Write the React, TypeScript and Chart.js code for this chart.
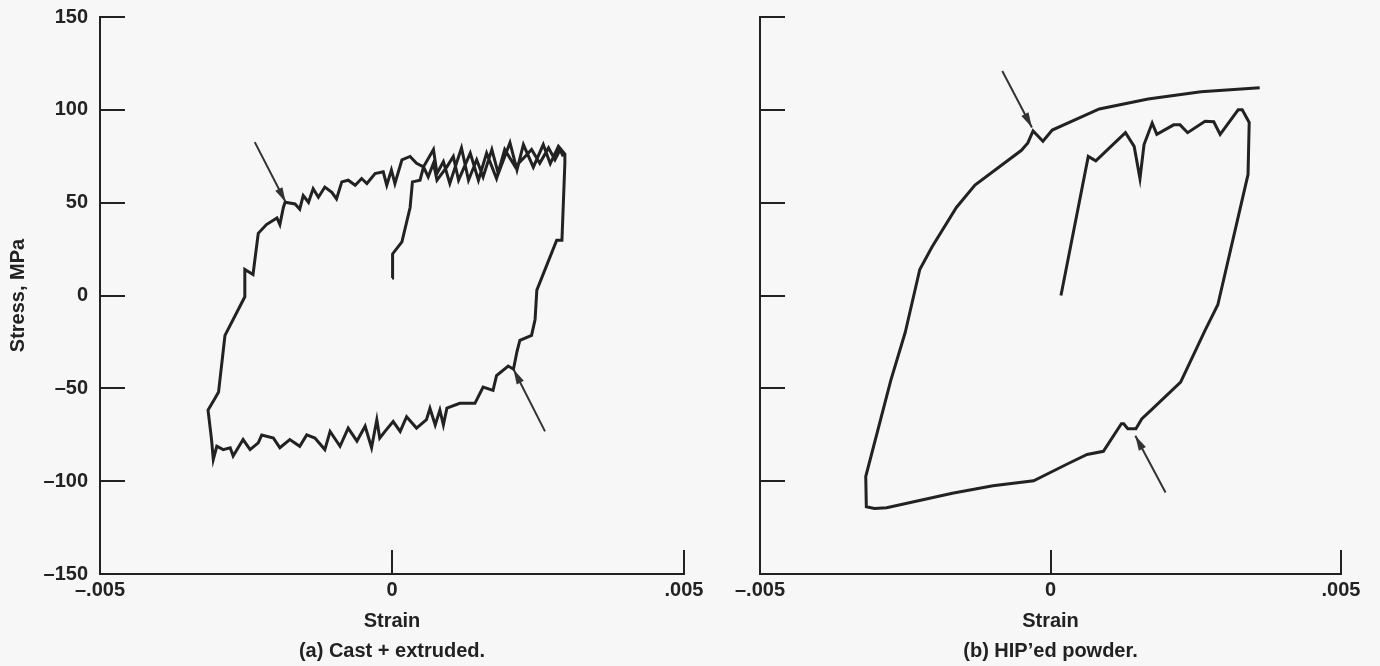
import { useEffect, useRef } from 'react';
import { Chart, registerables } from 'chart.js';

Chart.register(...registerables);

// ---------- axis ticks ----------
const yTickValues = [-150, -100, -50, 0, 50, 100, 150];
const yTickLabels = ['\u2013150', '\u2013100', '\u201350', '0', '50', '100', '150'];
const xTickValues = [-0.005, 0, 0.005];
const xTickLabels = ['\u2013.005', '0', '.005'];

// ---------- (a) Cast + extruded ----------
const castStrain = [
  0.0, 0.00001, 0.00017, 0.00031, 0.00035, 0.00048, 0.00054,
  0.00071, 0.00077, 0.00088, 0.00099, 0.00119, 0.00131, 0.00145, 0.00156, 0.00171, 0.00182,
  0.00202, 0.00214, 0.00225, 0.00242, 0.00259, 0.00271, 0.00285, 0.00296,
  0.00296, 0.00291, 0.00282, 0.00248, 0.00245, 0.00239, 0.00219, 0.00214, 0.00208,
  0.00199, 0.00179, 0.00173, 0.00156, 0.00142, 0.00116, 0.00094,
  0.00088, 0.00082, 0.00074, 0.00065, 0.00059, 0.00042, 0.00025, 0.00014, 0.00002,
  -0.00012, -0.00021, -0.00026, -0.00035, -0.00046, -0.0006, -0.00075, -0.00089, -0.00106,
  -0.00115, -0.00132, -0.00146, -0.00158, -0.00175, -0.00192, -0.00203, -0.00223, -0.00229,
  -0.00243, -0.00255, -0.00272, -0.00277, -0.00289, -0.003, -0.00306,
  -0.00309, -0.00315, -0.00303, -0.00297, -0.00286, -0.00252, -0.00252, -0.00238, -0.00235,
  -0.00229, -0.00215, -0.00197, -0.00192, -0.00186, -0.00183,
  -0.00166, -0.00158, -0.00152, -0.00143, -0.00135, -0.00126, -0.00115, -0.00103, -0.00095,
  -0.00086, -0.00075, -0.00063, -0.00052, -0.00043, -0.00029, -0.00015, -0.00009, -0.00001,
  0.00005, 0.00017, 0.00031, 0.00042, 0.00054, 0.00062, 0.00071, 0.00077, 0.00094, 0.00105,
  0.00114, 0.00134, 0.00148, 0.00162, 0.00179, 0.00193, 0.00211, 0.00228, 0.00239, 0.00253,
  0.00268, 0.00279, 0.00288, 0.00293,
];
const castStress = [
  9.4, 22.4, 28.9, 47.4, 61.2, 62.1, 69.3,
  78.6, 65.7, 72.1, 60.3, 79.5, 62.1, 73.1, 63.9, 78.6, 65.7,
  82.3, 67.6, 81.3, 69.1, 81.3, 71.0, 80.4, 76.2,
  71.2, 29.8, 29.8, 2.9, -12.9, -21.5, -24.1, -30.2, -39.7,
  -38.0, -43.2, -51.1, -49.3, -58.1, -58.1, -60.7,
  -69.7, -61.7, -69.7, -60.7, -66.9, -71.4, -65.3, -73.2, -67.9,
  -73.2, -76.8, -66.9, -82.0, -70.4, -78.4, -71.4, -81.2, -73.2,
  -83.0, -76.8, -75.1, -81.2, -77.6, -82.0, -76.8, -75.1, -79.4,
  -83.0, -77.6, -86.4, -82.0, -83.0, -81.2, -88.3,
  -77.6, -61.7, -55.3, -52.0, -21.5, -0.7, 14.0, 11.3, 18.7,
  33.5, 38.2, 41.8, 38.2, 47.4, 50.2,
  49.3, 46.5, 53.8, 50.2, 57.5, 52.9, 58.4, 55.6, 52.0,
  61.2, 62.1, 59.4, 63.0, 60.3, 65.7, 66.6, 59.4, 67.6,
  60.3, 73.1, 74.9, 71.2, 69.3, 63.9, 71.2, 62.1, 69.3, 74.9,
  62.1, 76.7, 62.1, 76.7, 63.0, 78.6, 69.3, 74.9, 78.6, 71.2,
  79.5, 73.1, 78.6, 74.9,
];
const castArrowAStrain = [-0.00235, -0.00182];
const castArrowAStress = [82.6, 50.2];
const castArrowBStrain = [0.00262, 0.00208];
const castArrowBStress = [-73.2, -39.7];

// ---------- (b) HIP'ed powder ----------
const hipStrain = [
  0.00018, 0.00065, 0.00078, 0.00129, 0.00144, 0.00154, 0.00161, 0.00175, 0.00183, 0.00212,
  0.00223, 0.00236, 0.00266, 0.00281, 0.00292, 0.00323, 0.0033, 0.00342, 0.0034, 0.00288,
  0.00266, 0.00224, 0.00175, 0.00157, 0.00147, 0.00133, 0.00126, 0.00122, 0.00091, 0.00063,
  0.00028, -0.00029, -0.00099, -0.00169, -0.00282, -0.00303, -0.00317, -0.00318, -0.00275,
  -0.0025, -0.00225, -0.00204, -0.00162, -0.0013, -0.0005, -0.00039, -0.0003, -0.00013,
  0.00003, 0.00084, 0.00168, 0.00259, 0.0036,
];
const hipStress = [
  0, 74.9, 72.5, 87.7, 80.3, 63.0, 81.3, 92.9, 86.8, 91.9,
  91.9, 87.7, 93.8, 93.6, 86.8, 100, 100, 93.2, 65.2, -5.0,
  -18.8, -46.7, -61.2, -66.5, -71.8, -71.8, -69.1, -69.1, -83.9, -85.6,
  -90.9, -99.8, -102.5, -106.5, -114.3, -114.7, -113.8, -97.5, -45.8,
  -19.8, 14.0, 26.1, 47.4, 59.5, 78.2, 82.2, 88.6, 83.1,
  89.1, 100.5, 105.8, 109.7, 111.9,
];
const hipArrowAStrain = [-0.00083, -0.00032];
const hipArrowAStress = [120.9, 90.5];
const hipArrowBStrain = [0.00198, 0.00146];
const hipArrowBStress = [-106.1, -75.5];

const INK = '#222222';
const FONT_FAMILY = '"Liberation Sans", Arial, Helvetica, sans-serif';

const arrowHeadPlugin = {
  id: 'arrowHeads',
  afterDatasetsDraw(chart: any) {
    const ctx = chart.ctx;
    chart.data.datasets.forEach((ds: any, i: number) => {
      if (!ds.isArrow) return;
      const pts = chart.getDatasetMeta(i).data;
      if (pts.length < 2) return;
      const a = pts[0];
      const b = pts[pts.length - 1];
      const ang = Math.atan2(b.y - a.y, b.x - a.x);
      const len = 15;
      const half = 4;
      const c = Math.cos(ang);
      const s = Math.sin(ang);
      ctx.save();
      ctx.fillStyle = ds.borderColor;
      ctx.beginPath();
      ctx.moveTo(b.x, b.y);
      ctx.lineTo(b.x - len * c + half * s, b.y - len * s - half * c);
      ctx.lineTo(b.x - len * c - half * s, b.y - len * s + half * c);
      ctx.closePath();
      ctx.fill();
      ctx.restore();
    });
  },
};

type Arrow = { x: number[]; y: number[] };

interface PanelProps {
  left: number;
  width: number;
  yWidth: number;
  padRight: number;
  strain: number[];
  stress: number[];
  arrows: Arrow[];
  caption: string;
  showY: boolean;
}

function Panel({ left, width, yWidth, padRight, strain, stress, arrows, caption, showY }: PanelProps) {
  const ref = useRef<HTMLCanvasElement>(null);

  useEffect(() => {
    if (!ref.current) return;
    const font = { family: FONT_FAMILY, size: 20, weight: 'bold' as const };
    const datasets: any[] = [
      {
        data: strain.map((x, i) => ({ x, y: stress[i] })),
        showLine: true,
        borderColor: INK,
        borderWidth: 3,
        pointRadius: 0,
        tension: 0,
        borderJoinStyle: 'miter',
        fill: false,
      },
      ...arrows.map((a) => ({
        isArrow: true,
        data: a.x.map((x, i) => ({ x, y: a.y[i] })),
        showLine: true,
        borderColor: '#333333',
        borderWidth: 2,
        pointRadius: 0,
        fill: false,
      })),
    ];

    const chart = new Chart(ref.current, {
      type: 'scatter',
      data: { datasets },
      plugins: [arrowHeadPlugin],
      options: {
        animation: false,
        responsive: false,
        maintainAspectRatio: false,
        events: [],
        layout: { padding: { top: 17, right: padRight, left: 0, bottom: 0 } },
        plugins: { legend: { display: false }, tooltip: { enabled: false } },
        scales: {
          x: {
            type: 'linear',
            position: 'bottom',
            min: -0.005,
            max: 0.005,
            afterBuildTicks: (s: any) => {
              s.ticks = xTickValues.map((v) => ({ value: v }));
            },
            afterFit: (s: any) => {
              s.height = 92;
              s.paddingLeft = 0;
              s.paddingRight = 0;
            },
            grid: { drawOnChartArea: false, drawTicks: true, tickLength: -24, color: INK, lineWidth: 2 },
            border: { display: true, color: INK, width: 2 },
            ticks: {
              padding: 28,
              font,
              color: INK,
              maxRotation: 0,
              autoSkip: false,
              callback: (_v: any, i: number) => xTickLabels[i],
            },
            title: {
              display: true,
              text: ['Strain', caption],
              font: { ...font, lineHeight: 1.5 },
              color: INK,
              padding: { top: 0, bottom: 0 },
            },
          },
          y: {
            type: 'linear',
            position: 'left',
            min: -150,
            max: 150,
            afterBuildTicks: (s: any) => {
              s.ticks = yTickValues.map((v) => ({ value: v }));
            },
            afterFit: (s: any) => {
              s.width = yWidth;
              s.paddingTop = 0;
              s.paddingBottom = 0;
            },
            grid: { drawOnChartArea: false, drawTicks: true, tickLength: -25, color: INK, lineWidth: 2 },
            border: { display: true, color: INK, width: 2 },
            ticks: {
              display: showY,
              padding: 37,
              font,
              color: INK,
              autoSkip: false,
              callback: (_v: any, i: number) => yTickLabels[i],
            },
            title: {
              display: showY,
              text: 'Stress, MPa',
              font,
              color: INK,
              padding: { top: 6, bottom: 0 },
            },
          },
        },
      } as any,
    });
    return () => chart.destroy();
  }, [left, width, yWidth, padRight, strain, stress, arrows, caption, showY]);

  return (
    <canvas
      ref={ref}
      width={width}
      height={666}
      style={{ position: 'absolute', left, top: 0, width, height: 666 }}
    />
  );
}

const castArrows: Arrow[] = [
  { x: castArrowAStrain, y: castArrowAStress },
  { x: castArrowBStrain, y: castArrowBStress },
];
const hipArrows: Arrow[] = [
  { x: hipArrowAStrain, y: hipArrowAStress },
  { x: hipArrowBStrain, y: hipArrowBStress },
];

export default function App() {
  return (
    <div
      style={{
        position: 'absolute',
        left: 0,
        top: 0,
        width: 1380,
        height: 666,
        background: '#f7f7f7',
        overflow: 'hidden',
      }}
    >
      <Panel
        left={0}
        width={720}
        yWidth={100}
        padRight={36}
        strain={castStrain}
        stress={castStress}
        arrows={castArrows}
        caption="(a) Cast + extruded."
        showY={true}
      />
      <Panel
        left={720}
        width={660}
        yWidth={40}
        padRight={39}
        strain={hipStrain}
        stress={hipStress}
        arrows={hipArrows}
        caption={'(b) HIP\u2019ed powder.'}
        showY={false}
      />
    </div>
  );
}
